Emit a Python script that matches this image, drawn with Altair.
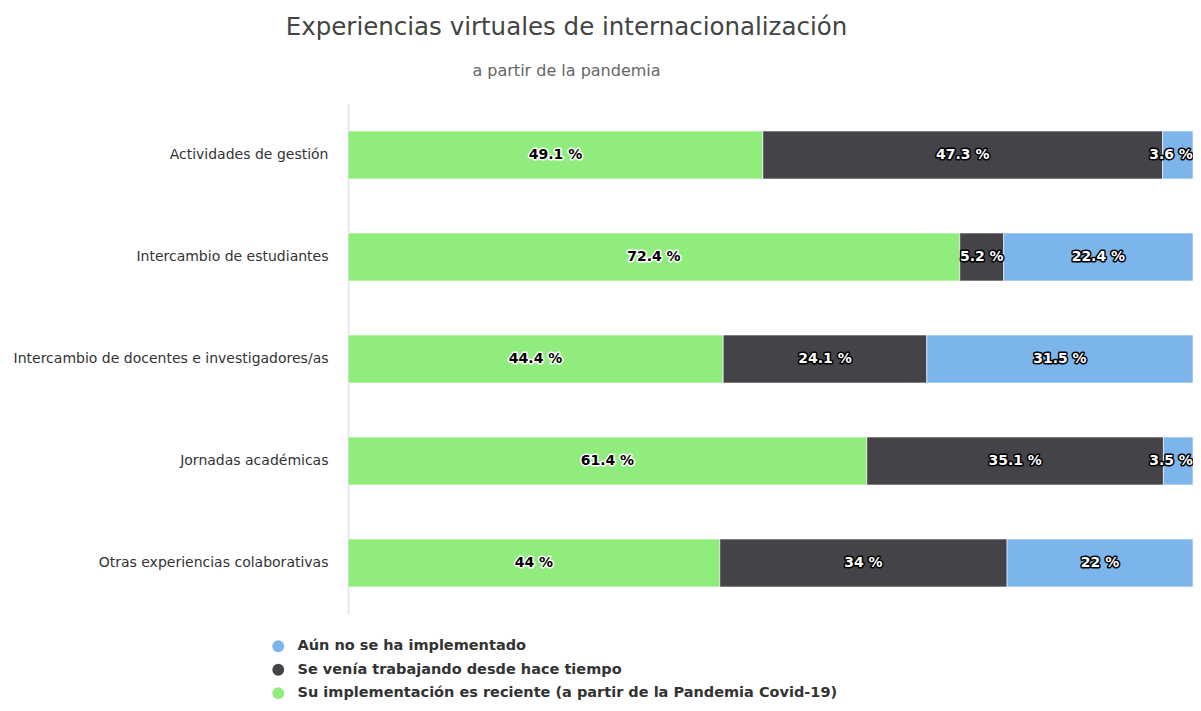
import altair as alt
import pandas as pd

categories = [
    "Actividades de gestión",
    "Intercambio de estudiantes",
    "Intercambio de docentes e investigadores/as",
    "Jornadas académicas",
    "Otras experiencias colaborativas",
]
series_names = [
    "Su implementación es reciente (a partir de la Pandemia Covid-19)",
    "Se venía trabajando desde hace tiempo",
    "Aún no se ha implementado",
]
reciente = [49.1, 72.4, 44.4, 61.4, 44]
tiempo = [47.3, 5.2, 24.1, 35.1, 34]
no_impl = [3.6, 22.4, 31.5, 3.5, 22]

colors = {
    series_names[0]: "#90ED7D",
    series_names[1]: "#434348",
    series_names[2]: "#7CB5EC",
}
legend_order = [series_names[2], series_names[1], series_names[0]]

rows = []
for i, cat in enumerate(categories):
    for k, (name, vals) in enumerate(zip(series_names, [reciente, tiempo, no_impl])):
        v = vals[i]
        rows.append({
            "category": cat,
            "series": name,
            "value": v,
            "order": k,
            "label": f"{v:g} %",
            "light": k == 0,
        })
df = pd.DataFrame(rows)

FONT = "DejaVu Sans"

base = alt.Chart(df).transform_stack(
    stack="value", groupby=["category"], as_=["x0", "x1"],
    sort=[alt.SortField("order", order="ascending")],
).transform_calculate(
    mid="min((datum.x0 + datum.x1) / 2, 97.4)"
)

y_enc = alt.Y(
    "category:N", sort=categories, title=None,
    scale=alt.Scale(paddingInner=0.53, paddingOuter=0.265),
    axis=alt.Axis(
        labelFont=FONT, labelFontSize=14, labelColor="#333333",
        labelPadding=20, ticks=False, domainColor="#dfe3ea",
        domainWidth=1.5, grid=False, labelLimit=400,
    ),
)
x_scale = alt.Scale(domain=[0, 100], nice=False, zero=True)

bars = base.mark_bar(stroke="#ffffff", strokeWidth=0.6).encode(
    y=y_enc,
    x=alt.X("x0:Q", scale=x_scale, axis=None),
    x2="x1:Q",
    color=alt.Color(
        "series:N",
        scale=alt.Scale(domain=legend_order, range=[colors[s] for s in legend_order]),
        legend=alt.Legend(
            title=None, orient="none", legendX=-77, legendY=535,
            symbolType="circle", symbolSize=140, symbolStrokeWidth=0,
            labelFont=FONT, labelFontSize=14.5, labelFontWeight="bold",
            labelColor="#333333", labelLimit=800, labelOffset=12,
            rowPadding=8.5, direction="vertical",
        ),
    ),
)

txt_kw = dict(font=FONT, fontSize=14, fontWeight="bold", align="center", baseline="middle")

outline = base.mark_text(strokeWidth=3, strokeJoin="round", **txt_kw).encode(
    y=alt.Y("category:N", sort=categories),
    x=alt.X("mid:Q", scale=x_scale),
    text="label:N",
    stroke=alt.condition("datum.light", alt.value("#ffffff"), alt.value("#000000")),
    fill=alt.condition("datum.light", alt.value("#ffffff"), alt.value("#000000")),
)
labels = base.mark_text(**txt_kw).encode(
    y=alt.Y("category:N", sort=categories),
    x=alt.X("mid:Q", scale=x_scale),
    text="label:N",
    fill=alt.condition("datum.light", alt.value("#000000"), alt.value("#ffffff")),
)

chart = alt.layer(bars, outline, labels).properties(
    width=845,
    height=510,
    autosize=alt.AutoSizeParams(type="none"),
    padding={"left": 340, "top": 96, "right": 0, "bottom": 90},
    title=alt.TitleParams(
        text="Experiencias virtuales de internacionalización",
        subtitle="a partir de la pandemia",
        anchor="middle", frame="group", dx=-204,
        font=FONT, fontSize=24.5, fontWeight="normal", color="#444444",
        subtitleFont=FONT, subtitleFontSize=16, subtitleColor="#666666",
        subtitlePadding=23, offset=24,
    ),
).configure_view(stroke=None)

chart.save("out.html", embed_options={"renderer": "svg", "actions": False})
